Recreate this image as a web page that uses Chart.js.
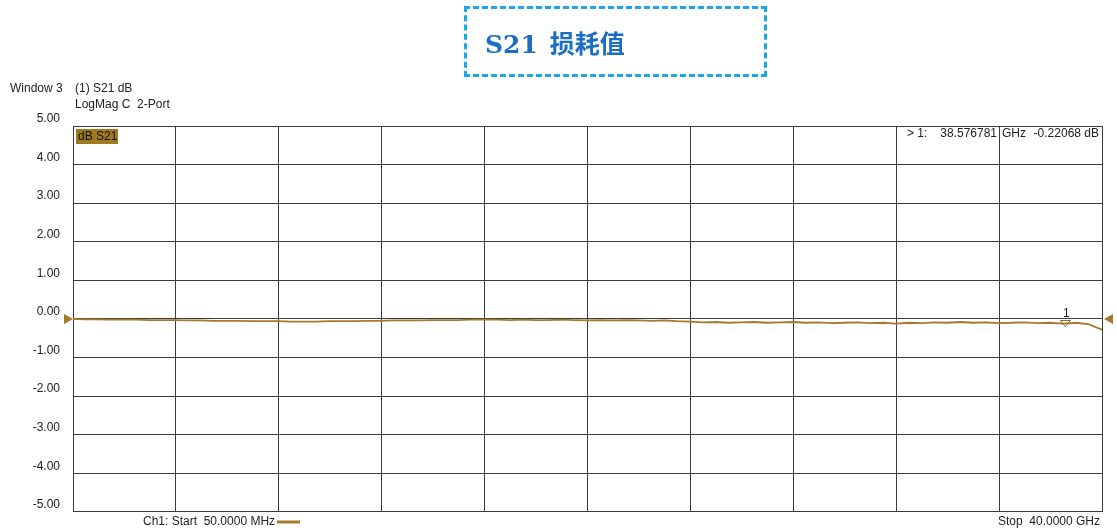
<!DOCTYPE html>
<html>
<head>
<meta charset="utf-8">
<script src="https://cdn.jsdelivr.net/npm/chart.js@4/dist/chart.umd.min.js"></script>
<style>
	body { margin: 0; background: #fff; }
	#wrap { position: relative; width: 1117px; height: 532px; }
	#titleBox {
		position: absolute; left: 464px; top: 6px; width: 303px; height: 71px;
		border: 3px dashed #19a8e6; box-sizing: border-box;
		color: #1a6fc0; font: bold 25px "DejaVu Serif", "Noto Sans CJK SC", serif;
		padding: 15px 0 0 18px;
	}
	#titleBox span { font-family: "Noto Sans CJK SC", sans-serif; font-weight: bold; margin-left: 12px; }
</style>
</head>
<body>
<div id="wrap">
	<canvas id="s21Graph" width="1117" height="532"></canvas>
	<div id="titleBox">S21<span>损耗值</span></div>
</div>
<script>
'use strict';

// 周波数 (GHz)
const freqGHz = [
	0.05, 0.5, 1, 1.5, 2, 2.5, 3, 3.5, 4, 4.5, 5, 5.5, 6, 6.5, 7, 7.5, 8, 8.5, 9, 9.5,
	10, 10.5, 11, 11.5, 12, 12.5, 13, 13.5, 14, 14.5, 15, 15.5, 16, 16.5, 17, 17.5, 18, 18.5, 19, 19.5,
	20, 20.5, 21, 21.5, 22, 22.5, 23, 23.5, 24, 24.5, 25, 25.5, 26, 26.5, 27, 27.5, 28, 28.5, 29, 29.5,
	30, 30.5, 31, 31.5, 32, 32.5, 33, 33.5, 34, 34.5, 35, 35.5, 36, 36.5, 37, 37.5, 38, 38.5, 39, 39.5, 40
];
// S21 (dB)
const s21dB = [
	0.00, -0.01, -0.01, -0.02, -0.02, -0.02, -0.03, -0.03, -0.03, -0.04, -0.04, -0.05, -0.05, -0.05, -0.06, -0.06, -0.06, -0.07, -0.07, -0.07,
	-0.06, -0.06, -0.06, -0.05, -0.05, -0.04, -0.04, -0.04, -0.03, -0.03, -0.03, -0.02, -0.02, -0.02, -0.03, -0.02, -0.03, -0.03, -0.02, -0.03,
	-0.04, -0.03, -0.04, -0.03, -0.04, -0.05, -0.04, -0.06, -0.07, -0.09, -0.08, -0.10, -0.09, -0.08, -0.10, -0.09, -0.08, -0.10, -0.09, -0.11,
	-0.10, -0.09, -0.11, -0.10, -0.12, -0.10, -0.11, -0.09, -0.10, -0.08, -0.10, -0.09, -0.11, -0.10, -0.09, -0.11, -0.10, -0.12, -0.10, -0.14, -0.28
];
const startGHz = 0.05;
const stopGHz = 40;
const yMin = -5;
const yMax = 5;
const refLevel = 0;
const markerGHz = 38.576781;
const markerDB = -0.22068;

const traceColor = '#a8792a';
const gridColor = '#3c3c3c';

// 注釈テキストとマーカー
const annotate = {
	id: 'annotate',
	afterDraw(chart) {
		const ctx = chart.ctx;
		const a = chart.chartArea;
		const x = chart.scales.x;
		const y = chart.scales.y;
		ctx.save();
		ctx.font = '12px "Liberation Sans", Arial, sans-serif';
		ctx.fillStyle = '#222';
		ctx.textBaseline = 'middle';
		ctx.textAlign = 'left';
		ctx.fillText('Window 3', 10, 89);
		ctx.fillText('(1) S21 dB', 75, 89);
		ctx.fillText('LogMag C  2-Port', 75, 105);
		ctx.fillText('Ch1: Start  50.0000 MHz', 143, 522);
		ctx.fillText('> 1:', 907, 134);
		ctx.fillText('GHz', 1002, 134);
		ctx.textAlign = 'right';
		ctx.fillText('38.576781', 997, 134);
		ctx.fillText('-0.22068 dB', 1099, 134);
		ctx.fillText('Stop  40.0000 GHz', 1100, 522);

		// 凡例の線
		ctx.strokeStyle = traceColor;
		ctx.lineWidth = 3;
		ctx.beginPath();
		ctx.moveTo(277, 522);
		ctx.lineTo(300, 522);
		ctx.stroke();

		// dB S21 ラベル
		ctx.fillStyle = '#a07a1e';
		ctx.fillRect(76, 129, 42, 15);
		ctx.fillStyle = '#111';
		ctx.textAlign = 'left';
		ctx.fillText('dB S21', 78, 137);

		// 基準レベルの矢印
		const ry = y.getPixelForValue(refLevel);
		ctx.fillStyle = '#a8792a';
		ctx.beginPath();
		ctx.moveTo(a.left - 9, ry - 5);
		ctx.lineTo(a.left, ry);
		ctx.lineTo(a.left - 9, ry + 5);
		ctx.fill();
		ctx.beginPath();
		ctx.moveTo(a.right + 11, ry - 5);
		ctx.lineTo(a.right + 2, ry);
		ctx.lineTo(a.right + 11, ry + 5);
		ctx.fill();

		// マーカー 1
		let i = freqGHz.findIndex(f => f >= markerGHz);
		const mx = x.getPixelForValue(markerGHz);
		const my = y.getPixelForValue(s21dB[i - 1]);
		ctx.strokeStyle = '#8a6a2a';
		ctx.lineWidth = 1;
		ctx.beginPath();
		ctx.moveTo(mx - 5, my - 3);
		ctx.lineTo(mx + 5, my - 3);
		ctx.lineTo(mx, my + 3);
		ctx.closePath();
		ctx.stroke();
		ctx.fillStyle = '#222';
		ctx.textAlign = 'center';
		ctx.fillText('1', mx + 1, my - 10);
		ctx.restore();
	}
};

let config = {
	type: 'line',
	data: {
		datasets: [
			{
				data: freqGHz.map((f, i) => ({ x: f, y: s21dB[i] })),
				borderColor: traceColor,
				borderWidth: 1.8,
				pointRadius: 0,
				tension: 0
			}]
	},
	options: {
		responsive: false,
		animation: false,
		layout: { padding: { left: 0, top: 126, right: 15, bottom: 0 } },
		plugins: {
			legend: { display: false },
			tooltip: { enabled: false }
		},
		scales: {
			x: {
				type: 'linear',
				min: startGHz,
				max: stopGHz,
				afterBuildTicks: (scale) => {
					let ticks = [];
					for (let k = 0; k <= 10; k++) {
						ticks.push({ value: startGHz + (stopGHz - startGHz) * k / 10 });
					}
					scale.ticks = ticks;
				},
				afterFit: (scale) => { scale.height = 20; },
				ticks: { display: false },
				grid: { color: gridColor, drawTicks: false },
				border: { color: gridColor }
			},
			y: {
				min: yMin,
				max: yMax,
				afterFit: (scale) => { scale.width = 73; },
				ticks: {
					stepSize: 1,
					padding: 13,
					labelOffset: -7,
					color: '#222',
					font: { family: '"Liberation Sans", Arial, sans-serif', size: 12 },
					callback: (v) => v.toFixed(2)
				},
				grid: { color: gridColor, drawTicks: false },
				border: { color: gridColor }
			}
		}
	},
	plugins: [annotate]
};

window.addEventListener('load', function() {
	let ctx = document.getElementById('s21Graph').getContext('2d');
	const s21Graph = new Chart(ctx, config);
}, false);
</script>
</body>
</html>
